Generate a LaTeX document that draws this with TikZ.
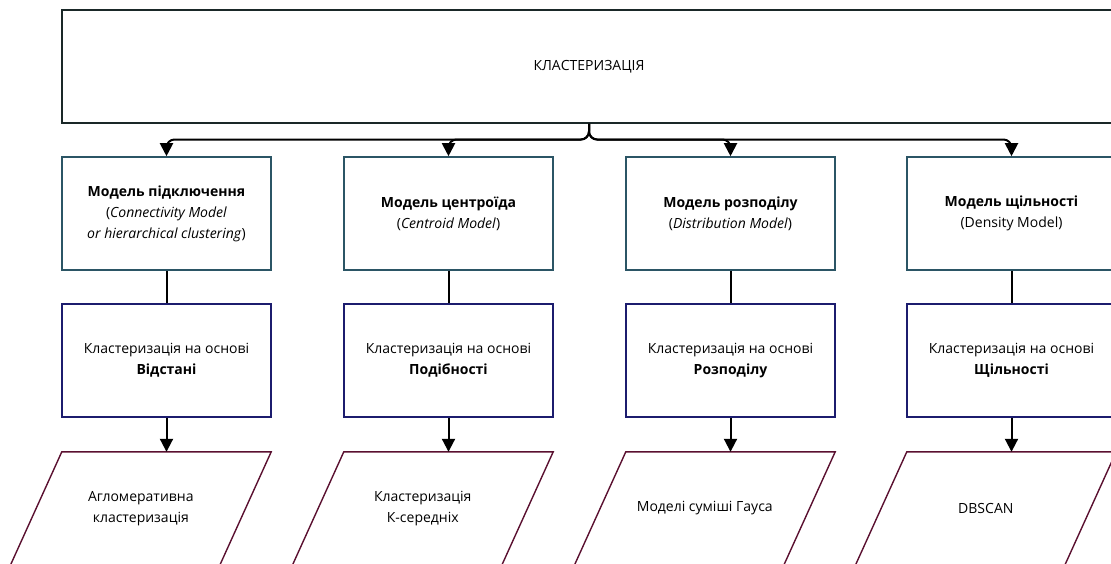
\documentclass[tikz,border=0pt]{standalone}
\usepackage{fontspec}
\setmainfont{Open Sans}
\usetikzlibrary{arrows.meta}

\definecolor{topline}{HTML}{1A2828}
\definecolor{modelline}{HTML}{2B5565}
\definecolor{basisline}{HTML}{1C1C6E}
\definecolor{algoline}{HTML}{5A1030}

\tikzset{
  txt/.style={align=center, font=\fontsize{14}{21}\selectfont, text=black},
  topbox/.style={txt, draw=topline, line width=1.6pt, minimum width=1054pt, minimum height=113pt},
  modelbox/.style={txt, draw=modelline, line width=1.6pt, minimum width=209pt, minimum height=113pt},
  basisbox/.style={txt, draw=basisline, line width=1.6pt, minimum width=209pt, minimum height=113pt},
  algotext/.style={txt, minimum width=209pt, minimum height=113pt},
  algoshape/.style={draw=algoline, line width=1.4pt},
  link/.style={line width=2pt, black},
  flow/.style={link, -{Triangle[width=13pt,length=13pt]}},
  fork/.style={flow, rounded corners=8pt},
}

\newcommand{\slantbox}[1]{%
  \draw[algoshape] ([xshift=25.7pt]#1.north west) -- ([xshift=25.7pt]#1.north east)
    -- ([xshift=-25.7pt]#1.south east) -- ([xshift=-25.7pt]#1.south west) -- cycle;
  \coordinate (#1top) at ([xshift=25.7pt]#1.north);}

\begin{document}
\begin{tikzpicture}[x=1pt, y=-1pt]
\useasboundingbox (0,0) rectangle (1111,563);
\clip (0,0) rectangle (1111,563);

% root
\node[topbox] (root) at (589,66.5) {КЛАСТЕРИЗАЦІЯ};

% model level
\node[modelbox] (m1) at (166.5,213.5) {\textbf{Модель підключення}\\(\textit{Connectivity Model}\\\textit{or hierarchical clustering})};
\node[modelbox] (m2) at (448.5,213.5) {\textbf{Модель центроїда}\\(\textit{Centroid Model})};
\node[modelbox] (m3) at (730.5,213.5) {\textbf{Модель розподілу}\\(\textit{Distribution Model})};
\node[modelbox] (m4) at (1011.5,213.5) {\textbf{Модель щільності}\\(Density Model)};

% basis level
\node[basisbox] (b1) at (166.5,360.5) {Кластеризація на основі\\\textbf{Відстані}};
\node[basisbox] (b2) at (448.5,360.5) {Кластеризація на основі\\\textbf{Подібності}};
\node[basisbox] (b3) at (730.5,360.5) {Кластеризація на основі\\\textbf{Розподілу}};
\node[basisbox] (b4) at (1011.5,360.5) {Кластеризація на основі\\\textbf{Щільності}};

% algorithms
\node[algotext] (a1) at (140.8,508.5) {Агломеративна\\кластеризація};
\node[algotext] (a2) at (422.8,508.5) {Кластеризація\\К-середніх};
\node[algotext] (a3) at (704.8,508.5) {Моделі суміші Гауса};
\node[algotext] (a4) at (985.8,508.5) {DBSCAN};
\slantbox{a1}\slantbox{a2}\slantbox{a3}\slantbox{a4}

% connectors
\coordinate (split) at (589,139.5);
\foreach \m in {m1,m2,m3,m4}
  \draw[fork] (root.south) -- (split) -| (\m.north);
\foreach \i in {1,2,3,4} {
  \draw[link] (m\i.south) -- (b\i.north);
  \draw[flow] (b\i.south) -- (a\i top);
}
\end{tikzpicture}
\end{document}
